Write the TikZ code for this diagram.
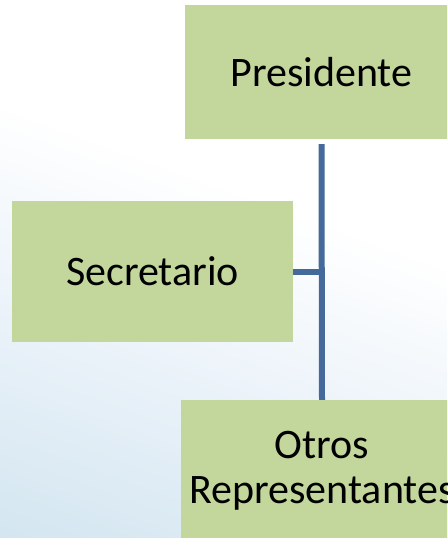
\documentclass[tikz,border=0pt]{standalone}
\usepackage{fontspec}
\setmainfont{Carlito}
\definecolor{boxgreen}{HTML}{C3D69B}
\definecolor{linkblue}{HTML}{44699A}
\definecolor{bgblue}{HTML}{D0E4EF}
\definecolor{bgmid}{HTML}{EAF2F9}
\pgfdeclareverticalshading{bgshade}{100bp}{color(0bp)=(bgblue); color(15bp)=(bgblue); color(38bp)=(bgmid); color(58bp)=(white); color(100bp)=(white)}
\tikzset{
  orgbox/.style={rectangle, fill=boxgreen, draw=none, align=center, inner sep=0pt,
    font=\fontsize{42}{45}\selectfont, text=black},
  link/.style={draw=linkblue, line width=6pt}
}
\begin{document}
\begin{tikzpicture}[x=1pt,y=-1pt]
\useasboundingbox (0,0) rectangle (447,538);
\clip (0,0) rectangle (447,538);
\shade[shading=bgshade, shading angle=-20] (0,0) rectangle (447,538);
\node[orgbox, minimum width=273pt, minimum height=134pt] (pres) at (321.5,72) {Presidente};
\node[orgbox, minimum width=281pt, minimum height=141pt] (sec) at (152.5,271.5) {Secretario};
\node[orgbox, minimum width=282pt, minimum height=142pt] (otros) at (322,471) {Otros\\Representantes};
\draw[link, shorten <=5pt] (pres.south) -- (otros.north);
\draw[link] (sec.east) -- (sec.east -| pres.south);
\end{tikzpicture}
\end{document}
